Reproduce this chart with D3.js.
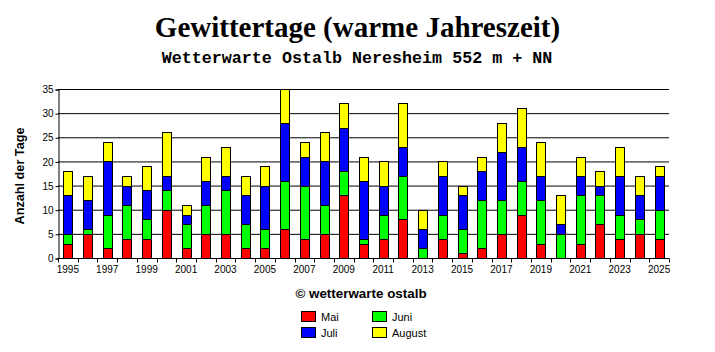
<!DOCTYPE html>
<html>
<head>
<meta charset="utf-8">
<script src="https://cdn.jsdelivr.net/npm/d3@7"></script>
<style>
body { margin: 0; background: #fff; }
svg { display: block; }
</style>
</head>
<body>
<div id="chart"></div>
<script>
// Gewittertage pro Monat (warme Jahreszeit)
var years = [1995, 1996, 1997, 1998, 1999, 2000, 2001, 2002, 2003, 2004, 2005,
  2006, 2007, 2008, 2009, 2010, 2011, 2012, 2013, 2014, 2015,
  2016, 2017, 2018, 2019, 2020, 2021, 2022, 2023, 2024, 2025];
var mai    = [3, 5, 2, 4, 4, 10, 2, 5, 5, 2, 2, 6, 4, 5, 13, 3, 4, 8, 0, 4, 1, 2, 5, 9, 3, 0, 3, 7, 4, 5, 4];
var juni   = [2, 1, 7, 7, 4, 4, 5, 6, 9, 5, 4, 10, 11, 6, 5, 1, 5, 9, 2, 5, 5, 10, 7, 7, 9, 5, 10, 6, 5, 3, 6];
var juli   = [8, 6, 11, 4, 6, 3, 2, 5, 3, 6, 9, 12, 6, 9, 9, 12, 6, 6, 4, 8, 7, 6, 10, 7, 5, 2, 4, 2, 8, 5, 7];
var august = [5, 5, 4, 2, 5, 9, 2, 5, 6, 4, 4, 7, 3, 6, 5, 5, 5, 9, 4, 3, 2, 3, 6, 8, 7, 6, 4, 3, 6, 4, 2];
var yTicks = [0, 5, 10, 15, 20, 25, 30, 35];

var keys = ['mai', 'juni', 'juli', 'august'];
var names = {mai: 'Mai', juni: 'Juni', juli: 'Juli', august: 'August'};
var colors = {mai: '#ff0000', juni: '#00ff00', juli: '#0000ff', august: '#ffff00'};

var data = years.map(function(y, i) {
    return {year: y, mai: mai[i], juni: juni[i], juli: juli[i], august: august[i]};
});

var W = 715, H = 352;
var margin = {top: 89, right: 46, bottom: 94, left: 58};
var width = W - margin.left - margin.right;
var height = H - margin.top - margin.bottom;

var root = d3.select('#chart')
    .append('svg')
    .attr('width', W)
    .attr('height', H);

root.append('text')
    .attr('x', W / 2)
    .attr('y', 37)
    .attr('text-anchor', 'middle')
    .style('font-family', '"Liberation Serif", "Times New Roman", serif')
    .style('font-weight', 'bold')
    .style('font-size', '29px')
    .text('Gewittertage (warme Jahreszeit)');

root.append('text')
    .attr('x', 357)
    .attr('y', 63)
    .attr('text-anchor', 'middle')
    .style('font-family', '"Liberation Mono", "Courier New", monospace')
    .style('font-weight', 'bold')
    .style('font-size', '16.7px')
    .text('Wetterwarte Ostalb Neresheim 552 m + NN');

var svg = root.append('g')
    .attr('transform', 'translate(' + margin.left + ',' + margin.top + ')');

var x = d3.scaleBand()
    .domain(years)
    .range([0, width])
    .paddingInner(0.54)
    .paddingOuter(0.27);

var y = d3.scaleLinear()
    .domain([0, 35])
    .range([height, 0]);

// Gitterlinien
svg.append('g')
    .selectAll('line')
    .data(yTicks.slice(1))
    .enter()
    .append('line')
    .attr('x1', 0)
    .attr('x2', width)
    .attr('y1', function(d) { return y(d) + 0.5; })
    .attr('y2', function(d) { return y(d) + 0.5; })
    .attr('stroke', '#000')
    .attr('stroke-width', 1);

// Balken
var stack = d3.stack().keys(keys)(data);

svg.append('g')
    .selectAll('g')
    .data(stack)
    .enter()
    .append('g')
    .attr('fill', function(d) { return colors[d.key]; })
    .selectAll('rect')
    .data(function(d) { return d.filter(function(v) { return v[1] > v[0]; }); })
    .enter()
    .append('rect')
    .attr('x', function(d) { return Math.round(x(d.data.year)) + 0.5; })
    .attr('y', function(d) { return Math.round(y(d[1])) + 0.5; })
    .attr('width', 9)
    .attr('height', function(d) { return Math.round(y(d[0])) - Math.round(y(d[1])); })
    .attr('stroke', '#000')
    .attr('stroke-width', 1);

// Y-Achse
var yAxis = svg.append('g')
    .attr('transform', 'translate(0.5,0.5)')
    .call(d3.axisLeft(y).tickValues(yTicks).tickSize(3).tickPadding(2));
yAxis.select('.domain').attr('stroke', '#000');
yAxis.selectAll('text')
    .style('font-family', '"Liberation Sans", Arial, sans-serif')
    .style('font-size', '10px')
    .attr('fill', '#000');

// X-Achse mit Strichen an den Bandgrenzen
var xAxis = svg.append('g')
    .attr('transform', 'translate(0,' + (height + 0.5) + ')');
xAxis.append('line')
    .attr('x1', 0)
    .attr('x2', width)
    .attr('stroke', '#000');
var step = x.step();
xAxis.selectAll('.tk')
    .data(d3.range(years.length + 1))
    .enter()
    .append('line')
    .attr('class', 'tk')
    .attr('x1', function(i) { return Math.round(i * step) + 0.5; })
    .attr('x2', function(i) { return Math.round(i * step) + 0.5; })
    .attr('y1', 0)
    .attr('y2', 4)
    .attr('stroke', '#000');
xAxis.selectAll('.lbl')
    .data(years.filter(function(d) { return d % 2 === 1; }))
    .enter()
    .append('text')
    .attr('class', 'lbl')
    .attr('x', function(d) { return x(d) + 4.5; })
    .attr('y', 14)
    .attr('text-anchor', 'middle')
    .style('font-family', '"Liberation Sans", Arial, sans-serif')
    .style('font-size', '10px')
    .text(function(d) { return d; });

root.append('text')
    .attr('transform', 'translate(24,' + 176 + ') rotate(-90)')
    .attr('text-anchor', 'middle')
    .style('font-family', '"Liberation Sans", Arial, sans-serif')
    .style('font-weight', 'bold')
    .style('font-size', '12.7px')
    .text('Anzahl der Tage');

root.append('text')
    .attr('x', 361)
    .attr('y', 298)
    .attr('text-anchor', 'middle')
    .style('font-family', '"Liberation Sans", Arial, sans-serif')
    .style('font-weight', 'bold')
    .style('font-size', '13.4px')
    .text('\u00a9 wetterwarte ostalb');

// Legende
var leg = root.append('g')
    .selectAll('g')
    .data(['mai', 'juni', 'juli', 'august'])
    .enter()
    .append('g')
    .attr('transform', function(d, i) {
        return 'translate(' + (301 + (i % 2) * 71) + ',' + (311 + Math.floor(i / 2) * 16) + ')';
    });
leg.append('rect')
    .attr('x', 0.5)
    .attr('y', 0.5)
    .attr('width', 14)
    .attr('height', 10)
    .attr('fill', function(d) { return colors[d]; })
    .attr('stroke', '#000');
leg.append('text')
    .attr('x', 20)
    .attr('y', 10)
    .style('font-family', '"Liberation Sans", Arial, sans-serif')
    .style('font-size', '11px')
    .text(function(d) { return names[d]; });
</script>
</body>
</html>
